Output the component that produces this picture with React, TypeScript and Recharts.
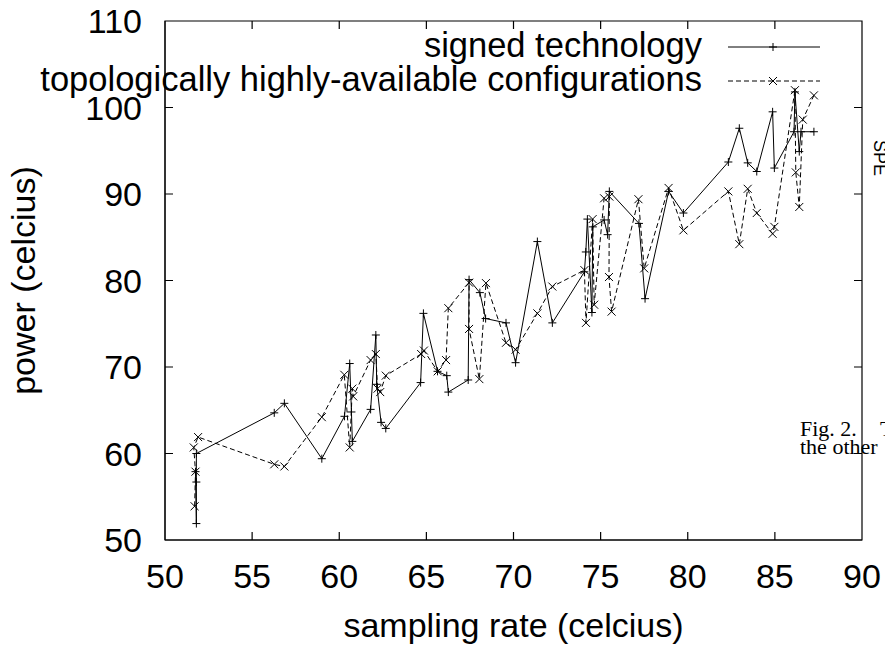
import React from 'react';
import { ScatterChart, Scatter, XAxis, YAxis, Legend } from 'recharts';

const FONT = '"Liberation Sans", Arial, Helvetica, sans-serif';
const SERIF = '"Liberation Serif", "Times New Roman", serif';

const xDomain = [50, 90];
const yDomain = [50, 110];
const xTicks = [50, 55, 60, 65, 70, 75, 80, 85, 90];
const yTicks = [50, 60, 70, 80, 90, 100, 110];

const seriesNames = ['signed technology', 'topologically highly-available configurations'];

const signedX = [51.75, 51.8, 51.8, 51.8, 56.27, 56.85, 59.0, 60.3, 60.6, 60.7, 60.75, 61.8, 62.1, 62.15, 62.4, 62.67, 64.67, 64.83, 65.64, 66.17, 66.26, 67.4, 67.45, 68.07, 68.4, 69.57, 70.12, 71.37, 72.23, 74.07, 74.15, 74.24, 74.5, 74.55, 75.2, 75.4, 75.5, 77.2, 77.55, 78.9, 79.75, 82.33, 82.96, 83.44, 83.96, 84.87, 84.97, 86.1, 86.15, 86.4, 86.5, 87.24];
const signedY = [57.9, 51.9, 56.7, 60.0, 64.7, 65.8, 59.4, 64.3, 70.4, 64.8, 61.4, 65.1, 73.7, 68.0, 63.6, 62.9, 68.2, 76.2, 69.5, 69.0, 67.1, 68.5, 80.1, 78.6, 75.6, 75.1, 70.5, 84.5, 75.1, 81.0, 83.3, 87.1, 76.3, 86.2, 87.0, 85.3, 90.3, 86.6, 77.9, 90.3, 87.8, 93.7, 97.6, 93.6, 92.6, 99.5, 93.0, 97.2, 101.8, 94.9, 97.2, 97.2];

const topoX = [51.7, 51.75, 51.65, 51.9, 56.27, 56.85, 59.0, 60.29, 60.6, 60.75, 60.8, 61.8, 62.1, 62.2, 62.35, 62.67, 64.7, 64.86, 65.65, 66.13, 66.26, 67.45, 67.45, 68.04, 68.42, 69.57, 70.12, 71.37, 72.23, 74.07, 74.16, 74.54, 74.63, 75.2, 75.5, 75.48, 75.63, 77.17, 77.5, 78.9, 79.75, 82.33, 82.96, 83.44, 83.96, 84.87, 84.97, 86.15, 86.2, 86.4, 86.6, 87.24];
const topoY = [53.9, 57.9, 60.7, 61.9, 58.75, 58.5, 64.2, 69.1, 60.7, 67.5, 66.6, 70.8, 71.5, 67.5, 67.1, 69.0, 71.5, 71.9, 69.5, 70.8, 76.8, 79.75, 74.4, 68.6, 79.7, 72.8, 72.0, 76.2, 79.3, 81.2, 75.1, 87.1, 77.2, 89.5, 89.7, 80.4, 76.4, 89.4, 81.4, 90.7, 85.8, 90.3, 84.2, 90.6, 87.8, 85.4, 86.2, 102.0, 92.5, 88.5, 98.6, 101.4];

const signedData = signedX.map((x, i) => ({ x, y: signedY[i] }));
const topoData = topoX.map((x, i) => ({ x, y: topoY[i] }));

// layout
const CHART_W = 885;
const CHART_H = 648;
const MARGIN = { top: 21, right: 23, bottom: 0, left: 0 };
const Y_AXIS_W = 165;
const X_AXIS_H = 108;
const PLOT_L = MARGIN.left + Y_AXIS_W;
const PLOT_T = MARGIN.top;
const PLOT_W = CHART_W - MARGIN.left - MARGIN.right - Y_AXIS_W;
const PLOT_H = CHART_H - MARGIN.top - MARGIN.bottom - X_AXIS_H;

const DASH = '5 3';
const M = 4;
const TICK = 8;

const plusPath = (cx: number, cy: number) => `M${cx - M},${cy}H${cx + M}M${cx},${cy - M}V${cy + M}`;
const crossPath = (cx: number, cy: number) =>
  `M${cx - M},${cy - M}L${cx + M},${cy + M}M${cx - M},${cy + M}L${cx + M},${cy - M}`;

const PlusShape = (props: any) => (
  <path d={plusPath(props.cx, props.cy)} stroke="#000" strokeWidth={1} fill="none" />
);
const CrossShape = (props: any) => (
  <path d={crossPath(props.cx, props.cy)} stroke="#000" strokeWidth={1} fill="none" />
);

const BottomTick = (p: any) => (
  <text x={p.x} y={p.y + 48} textAnchor="middle" fontSize={34} fontFamily={FONT} fill="#000">
    {p.payload.value}
  </text>
);
const LeftTick = (p: any) => (
  <text x={p.x - 23} y={p.y + 12} textAnchor="end" fontSize={34} fontFamily={FONT} fill="#000">
    {p.payload.value}
  </text>
);

// gnuplot-style border with inward ticks on all four sides
const tickX = (t: number) => PLOT_L + ((t - xDomain[0]) / (xDomain[1] - xDomain[0])) * PLOT_W;
const tickY = (t: number) => PLOT_T + PLOT_H - ((t - yDomain[0]) / (yDomain[1] - yDomain[0])) * PLOT_H;
const borderPath = (() => {
  const b = PLOT_T + PLOT_H;
  const r = PLOT_L + PLOT_W;
  let d = `M${PLOT_L},${PLOT_T}H${r}V${b}H${PLOT_L}Z`;
  xTicks.forEach((t) => {
    const x = tickX(t);
    d += `M${x},${b}V${b - TICK}M${x},${PLOT_T}V${PLOT_T + TICK}`;
  });
  yTicks.forEach((t) => {
    const y = tickY(t);
    d += `M${PLOT_L},${y}H${PLOT_L + TICK}M${r},${y}H${r - TICK}`;
  });
  return d;
})();

const renderLegend = (props: any) => {
  const payload = (props.payload || []).filter((e: any) => seriesNames.indexOf(e.value) >= 0);
  return (
    <svg width={CHART_W} height={110} style={{ display: 'block', overflow: 'visible' }}>
      {payload.map((entry: any) => {
        const idx = seriesNames.indexOf(entry.value);
        const ly = 47 + idx * 34;
        return (
          <g key={entry.value}>
            <text x={702} y={ly + 10} textAnchor="end" fontSize={34.5} fontFamily={FONT} fill="#000">
              {entry.value}
            </text>
            <line x1={728} x2={820} y1={ly} y2={ly} stroke="#000" strokeWidth={1} strokeDasharray={idx === 1 ? DASH : undefined} />
            <path d={idx === 1 ? crossPath(773, ly) : plusPath(773, ly)} stroke="#000" strokeWidth={1} fill="none" />
          </g>
        );
      })}
    </svg>
  );
};

export default function App() {
  return (
    <div style={{ position: 'absolute', left: 0, top: 0, width: CHART_W, height: CHART_H, background: '#fff', overflow: 'hidden' }}>
      <ScatterChart width={CHART_W} height={CHART_H} margin={MARGIN}>
        <XAxis
          dataKey="x"
          type="number"
          orientation="bottom"
          domain={xDomain}
          ticks={xTicks}
          interval={0}
          height={X_AXIS_H}
          tickSize={0}
          tickMargin={0}
          tickLine={false}
          axisLine={{ stroke: '#000', strokeWidth: 1 }}
          tick={BottomTick}
          label={{ value: 'sampling rate (celcius)', position: 'insideBottom', offset: 11, fontSize: 34, fontFamily: FONT, fill: '#000' }}
        />
        <YAxis
          dataKey="y"
          type="number"
          orientation="left"
          domain={yDomain}
          ticks={yTicks}
          interval={0}
          width={Y_AXIS_W}
          tickSize={0}
          tickMargin={0}
          tickLine={false}
          axisLine={{ stroke: '#000', strokeWidth: 1 }}
          tick={LeftTick}
          label={{ value: 'power (celcius)', angle: -90, position: 'insideLeft', offset: 23, fontSize: 34, fontFamily: FONT, fill: '#000', style: { textAnchor: 'middle' } }}
        />
        <Legend
          layout="horizontal"
          verticalAlign="middle"
          align="center"
          content={renderLegend}
          wrapperStyle={{ position: 'absolute', left: 0, top: 0, width: CHART_W, height: 110, pointerEvents: 'none' }}
        />
        <Scatter
          name={seriesNames[0]}
          data={signedData}
          line={{ stroke: '#000', strokeWidth: 1 }}
          lineType="joint"
          shape={PlusShape}
          fill="#000"
          isAnimationActive={false}
        />
        <Scatter
          name={seriesNames[1]}
          data={topoData}
          line={{ stroke: '#000', strokeWidth: 1, strokeDasharray: DASH }}
          lineType="joint"
          shape={CrossShape}
          fill="#000"
          isAnimationActive={false}
        />
      </ScatterChart>
      <svg width={CHART_W} height={CHART_H} style={{ position: 'absolute', left: 0, top: 0, pointerEvents: 'none' }}>
        <path d={borderPath} stroke="#000" strokeWidth={1.2} fill="none" />
        <text x={800} y={436} fontSize={22} fontFamily={SERIF} fill="#000">Fig. 2.</text>
        <text x={880} y={436} fontSize={22} fontFamily={SERIF} fill="#000">T</text>
        <text x={800} y={454} fontSize={22} fontFamily={SERIF} fill="#000">the other</text>
        <text x={874} y={140} fontSize={18} fontFamily={FONT} fill="#000" transform="rotate(90 874 140)">SPE</text>
      </svg>
    </div>
  );
}
